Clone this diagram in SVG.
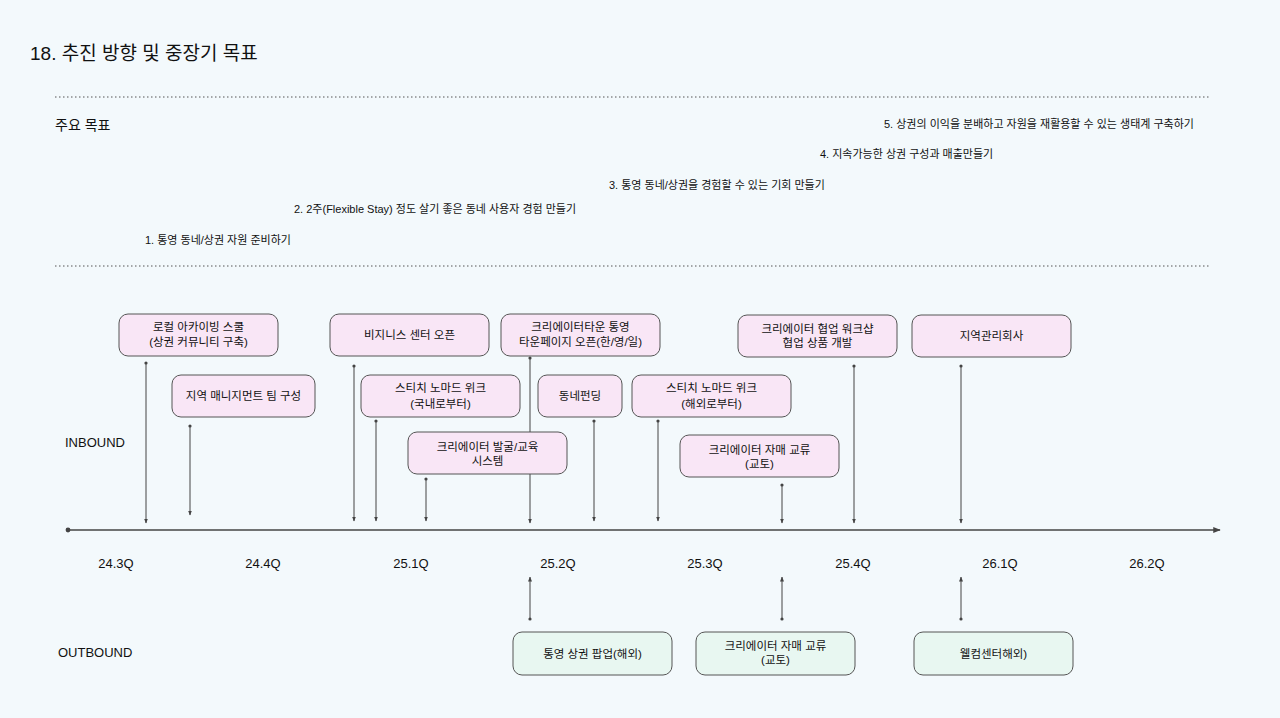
<svg xmlns="http://www.w3.org/2000/svg" width="1280" height="718" viewBox="0 0 1280 718">
<style>
text{font-family:"Liberation Sans","Noto Sans CJK KR",sans-serif;fill:#111}
.in rect{fill:#f9e6f6;stroke:#555;stroke-width:1}
.out rect{fill:#e8f7f1;stroke:#555;stroke-width:1}
.n{font-size:11.5px;text-anchor:middle}
.g{font-size:11px}
.q{font-size:13px;text-anchor:middle}
.c line{stroke:#444;stroke-width:1}
</style>
<defs>
<marker id="a" viewBox="0 0 10 10" refX="9" refY="5" markerWidth="5" markerHeight="5" orient="auto"><path d="M0,1L10,5L0,9z" fill="#444"/></marker>
<marker id="d" viewBox="0 0 10 10" refX="5" refY="5" markerWidth="4" markerHeight="4"><circle cx="5" cy="5" r="4" fill="#444"/></marker>
</defs>
<rect width="1280" height="718" fill="#f3f9fc"/>
<text x="30" y="60" style="font-size:19px">18. 추진 방향 및 중장기 목표</text>
<line x1="55" y1="97" x2="1210" y2="97" stroke="#555" stroke-dasharray="1.5,2.5"/>
<line x1="55" y1="266" x2="1210" y2="266" stroke="#555" stroke-dasharray="1.5,2.5"/>
<text x="55" y="130" style="font-size:14px">주요 목표</text>
<text class="g" x="884" y="128">5. 상권의 이익을 분배하고 자원을 재활용할 수 있는 생태계 구축하기</text>
<text class="g" x="820" y="158">4. 지속가능한 상권 구성과 매출만들기</text>
<text class="g" x="609" y="189">3. 통영 동네/상권을 경험할 수 있는 기회 만들기</text>
<text class="g" x="294" y="213">2. 2주(Flexible Stay) 정도 살기 좋은 동네 사용자 경험 만들기</text>
<text class="g" x="145" y="244">1. 통영 동네/상권 자원 준비하기</text>
<text x="65" y="447" style="font-size:13px">INBOUND</text>
<text x="58" y="657" style="font-size:13px">OUTBOUND</text>
<g class="c">
<line x1="68" y1="530" x2="1220" y2="530" marker-start="url(#d)" marker-end="url(#a)" style="stroke-width:1.5"/>
<line x1="146" y1="363" x2="146" y2="523" marker-start="url(#d)" marker-end="url(#a)"/>
<line x1="190" y1="426" x2="190" y2="515" marker-start="url(#d)" marker-end="url(#a)"/>
<line x1="354" y1="366" x2="354" y2="521" marker-start="url(#d)" marker-end="url(#a)"/>
<line x1="376" y1="421" x2="376" y2="521" marker-start="url(#d)" marker-end="url(#a)"/>
<line x1="426" y1="479" x2="426" y2="521" marker-start="url(#d)" marker-end="url(#a)"/>
<line x1="530" y1="358" x2="530" y2="523" marker-start="url(#d)" marker-end="url(#a)"/>
<line x1="594" y1="421" x2="594" y2="521" marker-start="url(#d)" marker-end="url(#a)"/>
<line x1="658" y1="421" x2="658" y2="521" marker-start="url(#d)" marker-end="url(#a)"/>
<line x1="782" y1="485" x2="782" y2="523" marker-start="url(#d)" marker-end="url(#a)"/>
<line x1="854" y1="366" x2="854" y2="523" marker-start="url(#d)" marker-end="url(#a)"/>
<line x1="961" y1="366" x2="961" y2="523" marker-start="url(#d)" marker-end="url(#a)"/>
<line x1="530" y1="619" x2="530" y2="577" marker-start="url(#d)" marker-end="url(#a)"/>
<line x1="782" y1="619" x2="782" y2="577" marker-start="url(#d)" marker-end="url(#a)"/>
<line x1="961" y1="619" x2="961" y2="577" marker-start="url(#d)" marker-end="url(#a)"/>
</g>
<g class="q-labels">
<text class="q" x="116" y="568">24.3Q</text>
<text class="q" x="263" y="568">24.4Q</text>
<text class="q" x="411" y="568">25.1Q</text>
<text class="q" x="558" y="568">25.2Q</text>
<text class="q" x="705" y="568">25.3Q</text>
<text class="q" x="853" y="568">25.4Q</text>
<text class="q" x="1000" y="568">26.1Q</text>
<text class="q" x="1147" y="568">26.2Q</text>
</g>
<g id="n1" class="in"><rect x="119" y="314" width="159" height="42" rx="9"/><text class="n" x="198.5" y="331">로컬 아카이빙 스쿨</text><text class="n" x="198.5" y="346">(상권 커뮤니티 구축)</text></g>
<g id="n2" class="in"><rect x="172" y="375" width="143" height="42" rx="9"/><text class="n" x="243.5" y="400">지역 매니지먼트 팀 구성</text></g>
<g id="n3" class="in"><rect x="330" y="314" width="159" height="42" rx="9"/><text class="n" x="409.5" y="339">비지니스 센터 오픈</text></g>
<g id="n4" class="in"><rect x="501" y="314" width="159" height="42" rx="9"/><text class="n" x="580.5" y="331">크리에이터타운 통영</text><text class="n" x="580.5" y="346">타운페이지 오픈(한/영/일)</text></g>
<g id="n5" class="in"><rect x="361" y="375" width="159" height="42" rx="9"/><text class="n" x="440.5" y="392">스티치 노마드 위크</text><text class="n" x="440.5" y="408">(국내로부터)</text></g>
<g id="n6" class="in"><rect x="538" y="375" width="84" height="42" rx="9"/><text class="n" x="580" y="400">동네펀딩</text></g>
<g id="n7" class="in"><rect x="632" y="375" width="159" height="42" rx="9"/><text class="n" x="711.5" y="392">스티치 노마드 위크</text><text class="n" x="711.5" y="408">(해외로부터)</text></g>
<g id="n8" class="in"><rect x="408" y="432" width="159" height="42" rx="9"/><text class="n" x="487.5" y="451">크리에이터 발굴/교육</text><text class="n" x="487.5" y="465">시스템</text></g>
<g id="n9" class="in"><rect x="738" y="315" width="159" height="42" rx="9"/><text class="n" x="817.5" y="333">크리에이터 협업 워크샵</text><text class="n" x="817.5" y="347">협업 상품 개발</text></g>
<g id="n10" class="in"><rect x="912" y="315" width="159" height="42" rx="9"/><text class="n" x="991.5" y="340">지역관리회사</text></g>
<g id="n11" class="in"><rect x="680" y="435" width="159" height="42" rx="9"/><text class="n" x="759.5" y="454">크리에이터 자매 교류</text><text class="n" x="759.5" y="468">(교토)</text></g>
<g id="o1" class="out"><rect x="513" y="632" width="159" height="43" rx="9"/><text class="n" x="592.5" y="658">통영 상권 팝업(해외)</text></g>
<g id="o2" class="out"><rect x="696" y="632" width="159" height="43" rx="9"/><text class="n" x="775.5" y="650">크리에이터 자매 교류</text><text class="n" x="775.5" y="664">(교토)</text></g>
<g id="o3" class="out"><rect x="914" y="632" width="159" height="43" rx="9"/><text class="n" x="993.5" y="658">웰컴센터해외)</text></g>
</svg>
